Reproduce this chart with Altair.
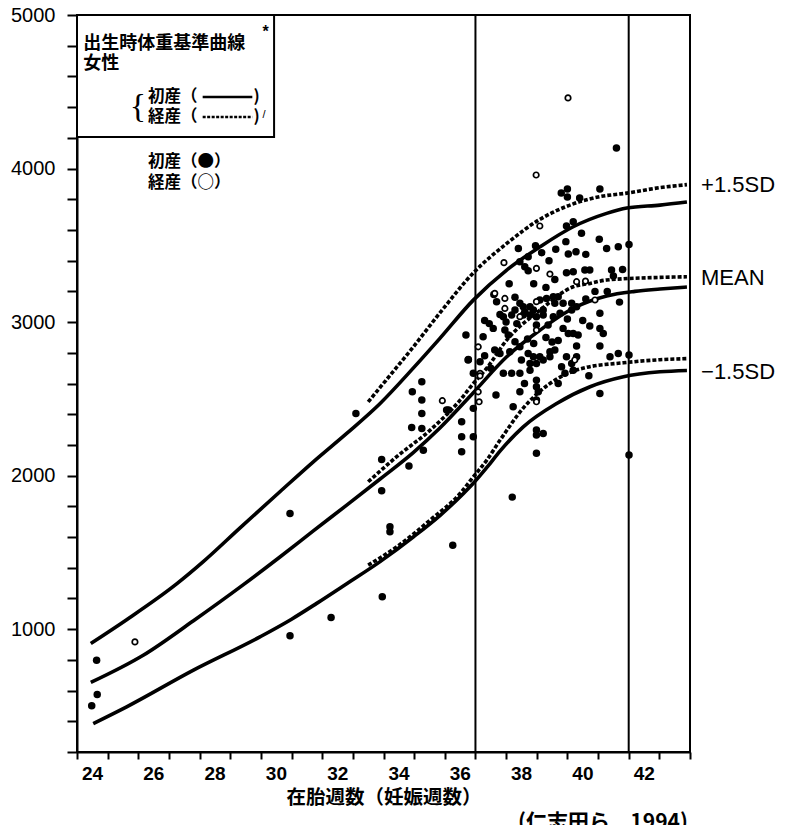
import altair as alt
import pandas as pd

# ---------------- reference curves (week, grams) ----------------
prim_plus_w = [24.45, 25.62, 27.25, 28.12, 29.32, 30.62, 31.71, 32.8, 33.89, 34.97, 35.84, 36.93, 38.02, 39.11, 40.19, 41.28, 41.94, 43.02, 43.9]
prim_plus_g = [907, 1062, 1295, 1440, 1660, 1895, 2090, 2275, 2470, 2700, 2894, 3143, 3339, 3491, 3621, 3708, 3743, 3762, 3782]
prim_mean_w = [24.45, 26.16, 27.8, 29.43, 30.62, 31.71, 32.8, 33.89, 34.97, 35.84, 36.93, 38.02, 39.11, 40.19, 41.28, 42.2, 43.02, 43.9]
prim_mean_g = [653, 830, 1055, 1290, 1470, 1640, 1808, 1978, 2150, 2310, 2540, 2774, 2948, 3090, 3170, 3200, 3215, 3228]
prim_minus_w = [24.53, 25.62, 27.8, 29.97, 31.0, 31.82, 32.8, 33.89, 34.97, 35.84, 36.61, 36.93, 37.4, 37.8, 38.56, 39.65, 40.74, 41.83, 43.02, 43.9]
prim_minus_g = [385, 494, 733, 950, 1065, 1168, 1296, 1440, 1600, 1740, 1884, 1950, 2060, 2160, 2318, 2470, 2579, 2644, 2676, 2685]

multi_plus_w = [33.5, 34.2, 34.9, 35.84, 36.93, 38.02, 39.11, 40.19, 41.0, 41.94, 43.0, 43.9]
multi_plus_g = [2480, 2650, 2820, 3060, 3320, 3512, 3670, 3770, 3815, 3840, 3875, 3895]
multi_mean_w = [33.5, 34.43, 35.52, 36.5, 36.93, 37.37, 38.02, 39.11, 40.19, 40.74, 41.28, 43.02, 43.9]
multi_mean_g = [1960, 2123, 2296, 2492, 2600, 2700, 2883, 3078, 3230, 3252, 3274, 3291, 3295]
multi_minus_w = [33.5, 34.43, 35.52, 36.5, 36.93, 37.37, 37.8, 38.56, 39.43, 40.19, 40.63, 41.83, 43.02, 43.9]
multi_minus_g = [1417, 1536, 1710, 1884, 1992, 2101, 2230, 2440, 2600, 2680, 2705, 2735, 2755, 2762]

# ---------------- observed babies ----------------
filled_w = [39.97, 40.19, 40.46, 41.04, 39.95, 42.01, 38.96, 38.40, 39.62, 40.28, 40.03, 40.60, 41.28, 41.66,
            38.72, 38.45, 38.61, 38.72, 39.16, 39.97, 40.19, 40.57, 40.73, 41.44, 41.80, 41.50, 39.59, 39.30,
            38.29, 37.69, 38.45, 38.56, 38.78, 38.61, 39.10, 39.32, 39.54, 39.70, 39.59, 39.86, 40.14, 40.30,
            40.14, 41.06, 38.29, 38.18, 38.89, 39.21, 37.91, 38.56, 38.78, 38.99, 39.21, 39.54, 39.76, 39.37,
            38.99, 37.58, 37.25, 36.69, 37.96, 38.07, 38.29, 38.45, 39.86, 40.03, 40.19, 40.35, 40.73, 41.06,
            41.17, 40.30, 41.06, 36.76, 37.63, 37.80, 38.12, 38.72, 38.89, 39.10, 38.78, 38.99, 39.21, 39.43,
            39.59, 39.43, 39.97, 40.14, 40.30, 38.50, 38.78, 41.39, 41.66, 42.01, 37.91, 38.18, 38.45, 39.81,
            39.92, 40.19, 36.93, 38.99, 38.99, 39.05, 38.99, 38.45, 37.67, 36.93, 36.06, 36.55, 36.55, 36.55,
            36.93, 38.23, 41.06, 38.99, 39.21, 38.99, 38.99, 42.01, 38.20,
            41.60, 40.00, 39.80, 40.00, 40.40, 41.06,
            33.10, 35.25, 34.94, 35.25, 35.25, 34.92, 35.25, 35.30, 33.94, 34.83, 33.94, 30.95, 34.21, 34.21,
            36.26, 33.96, 36.12, 36.77, 37.15,
            24.64, 24.66, 24.48, 30.95, 32.29,
            37.30, 37.45, 38.00, 38.35, 38.70, 38.90, 39.30, 39.50, 39.70, 40.00, 40.50, 40.60, 40.90,
            39.40, 38.10, 37.80, 37.50, 37.30, 40.70, 39.70, 38.60, 41.30, 41.70, 37.60, 38.90]
filled_g = [3626, 3654, 3578, 3539, 3524, 3506, 3497, 3480, 3474, 3458, 3443, 3441, 3480, 3491,
            3426, 3393, 3361, 3335, 3452, 3322, 3328, 3339, 3339, 3339, 3343, 3300, 3278, 3226,
            3161, 3133, 3122, 3100, 3100, 3068, 3144, 3154, 3165, 3165, 3122, 3122, 3122, 3100,
            3078, 3057, 3078, 3046, 3078, 3078, 3035, 3046, 3046, 3035, 3046, 3035, 3057, 2981,
            2981, 2959, 2905, 2916, 2948, 2916, 2872, 2839, 2959, 2926, 2926, 2916, 2974, 2959,
            2926, 2844, 2844, 2753, 2818, 2796, 2807, 2796, 2774, 2774, 2731, 2731, 2753, 2807,
            2818, 2774, 2774, 2731, 2774, 2753, 2687, 2774, 2796, 2785, 2666, 2666, 2666, 2709,
            2666, 2687, 2666, 2622, 2579, 2546, 2492, 2546, 2525, 2438, 2427, 2351, 2253, 2155,
            2253, 2449, 2535, 2297, 2275, 2264, 2145, 2134, 1860,
            4134, 3866, 3840, 3814, 3808, 3866,
            2405, 2611, 2546, 2492, 2405, 2314, 2307, 2166, 2105, 2062, 1901, 1754, 1667, 1634,
            1547, 1211, 2427, 2757, 2742,
            798, 574, 501, 957, 1076,
            3010, 2990, 3000, 2990, 2890, 2860, 2900, 2870, 2880, 3020, 3010, 3150, 3200,
            3400, 3250, 3050, 2700, 2780, 2650, 2600, 2600, 3200, 3130, 3180, 3250]

open_w = [40.02, 38.98, 39.10, 37.93, 38.99, 39.43, 40.30, 40.59, 37.63, 37.96, 37.96, 38.99, 38.45,
          40.90, 38.99, 40.24, 37.09, 37.15, 37.09, 37.12, 38.99, 35.92, 37.15, 25.89]
open_g = [4460, 3958, 3626, 3387, 3350, 3313, 3263, 3267, 3187, 3154, 3089, 3133, 3035,
          3144, 2948, 2753, 2839, 2666, 2546, 2481, 2481, 2488, 2650, 917]

# ---------------- reference lines / texts ----------------
term_weeks = [37, 42]
x_ticks = list(range(24, 45))
y_ticks = list(range(200, 5001, 200))
sd_labels = ["+1.5SD", "MEAN", "\u22121.5SD"]
sd_label_g = [3893, 3287, 2674]

JP = "Noto Sans CJK JP"
LAT = "Liberation Sans"

xs = alt.Scale(domain=[24, 44], nice=False, zero=False)
ys = alt.Scale(domain=[200, 5000], nice=False, zero=False)

x_axis = alt.Axis(values=x_ticks, tickSize=7, tickWidth=2, tickColor="black",
                  domainColor="black", domainWidth=2, grid=False,
                  labelExpr="(datum.value % 2 == 0 && datum.value < 44) ? datum.value : ''",
                  labelOffset=15, labelFlush=False, labelOverlap=False,
                  labelFont=LAT, labelFontSize=19, labelFontWeight="bold", labelColor="black",
                  labelPadding=5,
                  title="在胎週数（妊娠週数）", titleFont=JP, titleFontSize=19.5,
                  titleFontWeight="bold", titleColor="black", titlePadding=5)
y_axis = alt.Axis(values=y_ticks, tickSize=10, tickWidth=2, tickColor="black",
                  domainColor="black", domainWidth=2, grid=False,
                  labelExpr="datum.value % 1000 == 0 ? datum.value : ''",
                  labelFont=LAT, labelFontSize=20, labelColor="black", labelPadding=12,
                  labelOverlap=False, title=None)


def X(f="x"):
    return alt.X(f, type="quantitative", scale=xs, axis=x_axis)


def Y(f="y"):
    return alt.Y(f, type="quantitative", scale=ys, axis=y_axis)


def curve_df(names, ws, gs):
    rows = []
    for n, w, g in zip(names, ws, gs):
        for a, b in zip(w, g):
            rows.append({"x": a, "y": b, "c": n})
    return pd.DataFrame(rows)


solid_df = curve_df(["p+", "pm", "p-"], [prim_plus_w, prim_mean_w, prim_minus_w],
                    [prim_plus_g, prim_mean_g, prim_minus_g])
dash_df = curve_df(["m+", "mm", "m-"], [multi_plus_w, multi_mean_w, multi_minus_w],
                   [multi_plus_g, multi_mean_g, multi_minus_g])

solid = alt.Chart(solid_df).mark_line(color="black", strokeWidth=3.6, interpolate="monotone").encode(
    x=X(), y=Y(), detail="c:N")
dashed = alt.Chart(dash_df).mark_line(color="black", strokeWidth=3.6, strokeDash=[4, 2],
                                      interpolate="monotone").encode(x=X(), y=Y(), detail="c:N")

rules = alt.Chart(pd.DataFrame({"x": term_weeks})).mark_rule(color="black", strokeWidth=2).encode(x=X())

pts = alt.Chart(pd.DataFrame({"x": filled_w, "y": filled_g})).mark_point(
    shape="circle", filled=True, color="black", size=56, opacity=1).encode(x=X(), y=Y())
opts = alt.Chart(pd.DataFrame({"x": open_w, "y": open_g})).mark_point(
    shape="circle", filled=False, color="black", fill="white", size=30, strokeWidth=1.7,
    opacity=1).encode(x=X(), y=Y())

# legend box
box = alt.Chart(pd.DataFrame({"x": [24.0], "x2": [30.43], "y": [4205], "y2": [5000]})).mark_rect(
    fill="white", stroke="black", strokeWidth=2).encode(x=X(), x2="x2", y=Y(), y2="y2")


def txt(xv, yv, t, size, font=JP, weight="bold", align="left", baseline="middle"):
    return alt.Chart(pd.DataFrame({"x": [xv], "y": [yv], "t": [t]})).mark_text(
        font=font, fontSize=size, fontWeight=weight, align=align, baseline=baseline,
        color="black").encode(x=X(), y=Y(), text="t:N")


legend_title = txt(24.2, 4812, "出生時体重基準曲線", 18)
legend_star = txt(30.05, 4890, "*", 16, font=LAT)
legend_sex = txt(24.2, 4680, "女性", 18)
legend_brace = txt(26.25, 4400, "{", 34, font="Liberation Serif", weight="normal", align="right")
legend_p = txt(26.32, 4466, "初産（", 16.5)
legend_p_end = txt(29.76, 4466, ")", 16.5)
legend_m = txt(26.32, 4335, "経産（", 16.5)
legend_m_end = txt(29.76, 4335, ")", 16.5)
legend_slash = txt(30.05, 4350, "/", 11, font=LAT, weight="normal")
legend_line_p = alt.Chart(pd.DataFrame({"x": [28.1], "x2": [29.72], "y": [4466]})).mark_rule(
    color="black", strokeWidth=2.5).encode(x=X(), x2="x2", y=Y())
legend_line_m = alt.Chart(pd.DataFrame({"x": [28.1], "x2": [29.72], "y": [4335]})).mark_rule(
    color="black", strokeWidth=2.5, strokeDash=[3, 1.5]).encode(x=X(), x2="x2", y=Y())
dot_p = txt(26.32, 4040, "初産（●）", 16.5)
dot_m = txt(26.32, 3908, "経産（○）", 16.5)

sd_text = alt.Chart(pd.DataFrame({"x": [44.36] * 3, "y": sd_label_g, "t": sd_labels})).mark_text(
    font=LAT, fontSize=22, align="left", baseline="middle", color="black").encode(
    x=X(), y=Y(), text="t:N")

cite = txt(43.93, -192, "(仁志田ら，1994)", 21, align="right", baseline="top")

chart = alt.layer(
    box, solid, dashed, rules, pts, opts,
    legend_title, legend_star, legend_sex, legend_brace, legend_p, legend_p_end, legend_m,
    legend_m_end, legend_slash, legend_line_p, legend_line_m, dot_p, dot_m, sd_text, cite
).properties(
    width=613, height=737,
    autosize=alt.AutoSizeParams(type="none"),
    padding={"left": 69, "top": 7, "right": 90, "bottom": 73},
    background="white",
).configure_view(stroke="black", strokeWidth=2)

chart.save("out.html", embed_options={"renderer": "svg", "actions": False})
